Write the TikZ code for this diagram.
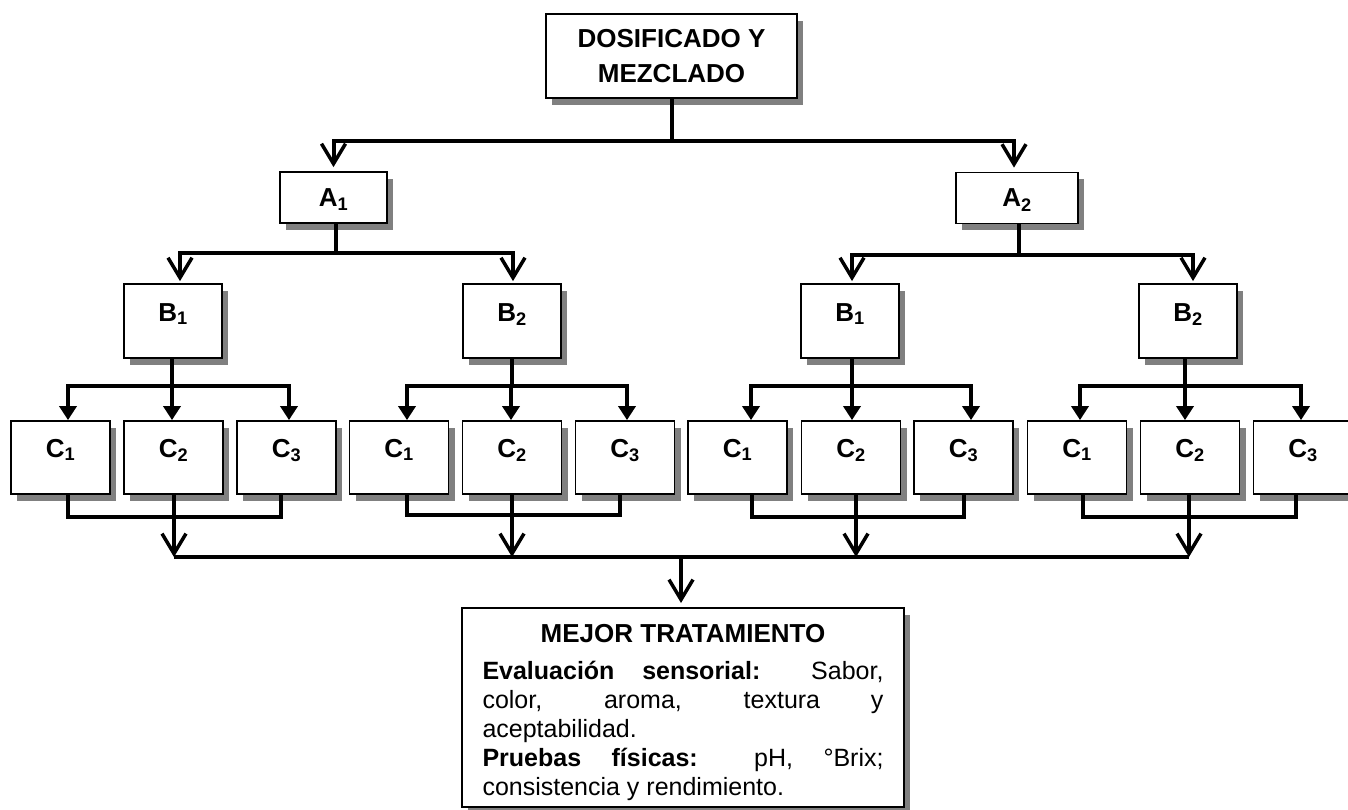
\documentclass[tikz,border=0pt]{standalone}
\usepackage{fontspec}
\setmainfont{Liberation Sans}
\usetikzlibrary{arrows.meta,shadows,calc}
\begin{document}
\begin{tikzpicture}[x=1pt,y=-1pt,
  box/.style={draw, line width=1.8pt, fill=white,
    drop shadow={shadow xshift=6pt, shadow yshift=-7pt, fill=black!50, opacity=1},
    inner sep=0pt, font=\bfseries\fontsize{26}{35}\selectfont},
  abox/.style={box, minimum height=51pt, text height=18pt, text depth=0pt},
  bbox/.style={box, minimum width=98pt, minimum height=74pt, text height=18pt, text depth=18pt},
  cbox/.style={box, minimum width=99pt, minimum height=73pt, text height=18pt, text depth=19pt},
  conn/.style={line width=4pt},
  openarr/.style={conn, -{Straight Barb[length=20pt,width=24pt,line width=3.5pt]}},
  triarr/.style={conn, -{Triangle[length=14pt,width=17pt]}}
]
\useasboundingbox (0,0) rectangle (1348,810);

% boxes
\node[box, minimum width=251pt, minimum height=84pt, align=center] (top) at (671.5,56) {DOSIFICADO Y\\MEZCLADO};
\node[abox, minimum width=107pt] (a1) at (333.5,197.5) {A\textsubscript{1}};
\node[abox, minimum width=122pt] (a2) at (1017,198) {A\textsubscript{2}};

\node[bbox] (b11) at (173,321) {B\textsubscript{1}};
\node[bbox] (b12) at (512,321) {B\textsubscript{2}};
\node[bbox] (b21) at (850,321) {B\textsubscript{1}};
\node[bbox] (b22) at (1188,321) {B\textsubscript{2}};

\node[cbox] (c11) at (60.5,457.5) {C\textsubscript{1}};
\node[cbox] (c12) at (173.5,457.5) {C\textsubscript{2}};
\node[cbox] (c13) at (286.5,457.5) {C\textsubscript{3}};
\node[cbox] (c21) at (399,457.5) {C\textsubscript{1}};
\node[cbox] (c22) at (512,457.5) {C\textsubscript{2}};
\node[cbox] (c23) at (625,457.5) {C\textsubscript{3}};
\node[cbox] (c31) at (737.5,457.5) {C\textsubscript{1}};
\node[cbox] (c32) at (851,457.5) {C\textsubscript{2}};
\node[cbox] (c33) at (963.5,457.5) {C\textsubscript{3}};
\node[cbox] (c41) at (1077,457.5) {C\textsubscript{1}};
\node[cbox] (c42) at (1190,457.5) {C\textsubscript{2}};
\node[cbox] (c43) at (1303,457.5) {C\textsubscript{3}};

\node[box, anchor=north, minimum width=442pt, minimum height=199pt, text width=401pt,
  inner xsep=20.5pt, inner ysep=0pt, align=justify,
  font=\mdseries\fontsize{25}{29}\selectfont] (final) at (683,607)
  {\baselineskip=29pt
   {\centering\bfseries\fontsize{26}{29}\selectfont\rule{0pt}{28pt}MEJOR TRATAMIENTO\par}\vspace{8pt}%
   \noindent\textbf{Evaluación sensorial:} Sabor,\linebreak color, aroma, textura y\linebreak aceptabilidad.\par
   \noindent\textbf{Pruebas físicas:} pH, °Brix;\linebreak consistencia y rendimiento.};

% top level
\coordinate (ja) at ($(top.south)+(0,42)$);
\draw[conn] (top.south) -- (ja);
\draw[openarr, shorten >=4pt] (ja) -| (a1.north);
\draw[openarr, shorten >=4pt] ($(ja)+(0,0)$) -| ($(a2.north)+(-3,0)$);

% A -> B
\coordinate (jb1) at ($(a1.south)+(2,29)$);
\coordinate (jb2) at ($(a2.south)+(2,31)$);
\draw[conn] ($(a1.south)+(2,0)$) -- (jb1);
\draw[openarr, shorten >=2pt] (jb1) -| ($(b11.north)+(7,0)$);
\draw[openarr, shorten >=2pt] (jb1) -| ($(b12.north)+(1,0)$);
\draw[conn] ($(a2.south)+(2,0)$) -- (jb2);
\draw[openarr, shorten >=2pt] (jb2) -| ($(b21.north)+(2,0)$);
\draw[openarr, shorten >=2pt] (jb2) -| ($(b22.north)+(5,0)$);

% B -> C
\coordinate (jc1) at ($(b11.south)+(-1,27)$);
\coordinate (jc2) at ($(b12.south)+(0,27)$);
\coordinate (jc3) at ($(b21.south)+(2,27)$);
\coordinate (jc4) at ($(b22.south)+(-3,27)$);
\draw[conn] ($(b11.south)+(-1,0)$) -- (jc1);
\draw[triarr] (jc1) -| ($(c11.north)+(7.5,0)$);
\draw[triarr] (jc1) -| ($(c12.north)+(-1.5,0)$);
\draw[triarr] (jc1) -| ($(c13.north)+(2.5,0)$);
\draw[conn] (b12.south) -- (jc2);
\draw[triarr] (jc2) -| ($(c21.north)+(8,0)$);
\draw[triarr] (jc2) -| ($(c22.north)+(-1,0)$);
\draw[triarr] (jc2) -| ($(c23.north)+(2,0)$);
\draw[conn] ($(b21.south)+(2,0)$) -- (jc3);
\draw[triarr] (jc3) -| ($(c31.north)+(13.5,0)$);
\draw[triarr] (jc3) -| ($(c32.north)+(1,0)$);
\draw[triarr] (jc3) -| ($(c33.north)+(7.5,0)$);
\draw[conn] ($(b22.south)+(-3,0)$) -- (jc4);
\draw[triarr] (jc4) -| ($(c41.north)+(3,0)$);
\draw[triarr] (jc4) -| ($(c42.north)+(-5,0)$);
\draw[triarr] (jc4) -| ($(c43.north)+(-2,0)$);

% C -> bus
\coordinate (bus) at (0,557);
\draw[conn] ($(c11.south)+(7.5,0)$) -- ++(0,22) -| ($(c13.south)+(-5.5,0)$);
\draw[conn] ($(c21.south)+(8,0)$) -- ++(0,20) -| ($(c23.south)+(-5,0)$);
\draw[conn] ($(c31.south)+(14.5,0)$) -- ++(0,22) -| ($(c33.south)+(0.5,0)$);
\draw[conn] ($(c41.south)+(6,0)$) -- ++(0,22) -| ($(c43.south)+(-7,0)$);
\coordinate (m1) at ($(c12.south)+(0.5,0)$);
\coordinate (m2) at (c22.south);
\coordinate (m3) at ($(c32.south)+(5,0)$);
\coordinate (m4) at ($(c42.south)+(-1,0)$);
\draw[openarr] (m1) -- (m1 |- bus);
\draw[openarr] (m2) -- (m2 |- bus);
\draw[openarr] (m3) -- (m3 |- bus);
\draw[openarr] (m4) -- (m4 |- bus);
\draw[conn] (m1 |- bus) -- (m4 |- bus);
\draw[openarr, shorten >=4pt] ($(final.north |- bus)+(-2,0)$) -- ($(final.north)+(-2,0)$);
\end{tikzpicture}
\end{document}
